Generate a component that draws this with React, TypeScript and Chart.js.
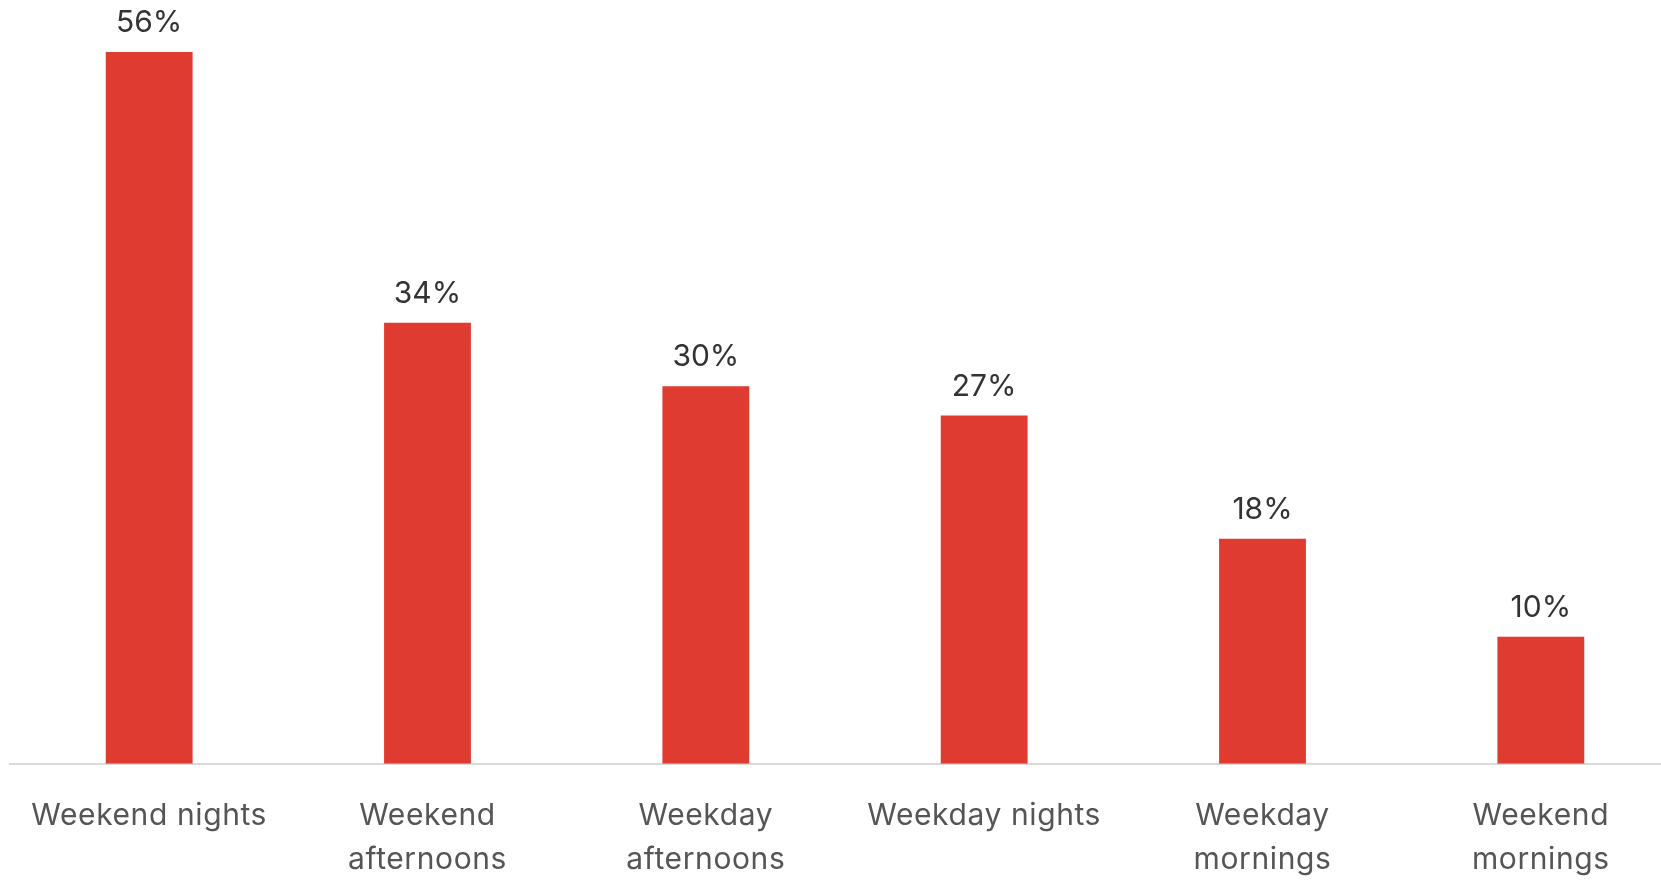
import React, { useEffect, useRef } from "react";
import { Chart, registerables } from "chart.js";

Chart.register(...registerables);

const categories: (string | string[])[] = [
  "Weekend nights",
  ["Weekend", "afternoons"],
  ["Weekday", "afternoons"],
  "Weekday nights",
  ["Weekday", "mornings"],
  ["Weekend", "mornings"],
];
// bar heights
const values: number[] = [56, 34.7, 29.7, 27.4, 17.7, 10.0];
// value labels as printed above the bars
const valueTexts: string[] = ["56%", "34%", "30%", "27%", "18%", "10%"];

const BAR_COLOR = "#e03b31";
const FONT = "Inter, 'Open Sans', sans-serif";

const spacing = {
  id: "spacing",
  beforeDraw(chart: any) {
    chart.ctx.letterSpacing = "0.6px";
  },
};

const valueLabels = {
  id: "valueLabels",
  afterDatasetsDraw(chart: any) {
    const ctx = chart.ctx;
    const meta = chart.getDatasetMeta(0);
    ctx.save();
    ctx.letterSpacing = "0px";
    ctx.font = `400 30px ${FONT}`;
    ctx.fillStyle = "#333333";
    ctx.textAlign = "center";
    ctx.textBaseline = "middle";
    meta.data.forEach((bar: any, i: number) => {
      ctx.fillText(valueTexts[i], bar.x, bar.y - 29);
    });
    ctx.restore();
  },
};

export default function App() {
  const ref = useRef<HTMLCanvasElement>(null);
  useEffect(() => {
    document.body.style.margin = "0";
    const canvas = ref.current!;
    const chart = new Chart(canvas, {
      type: "bar",
      data: {
        labels: categories,
        datasets: [
          {
            data: values,
            backgroundColor: BAR_COLOR,
            barPercentage: 0.312,
            categoryPercentage: 1,
          },
        ],
      },
      options: {
        responsive: false,
        animation: false,
        devicePixelRatio: 1,
        layout: { padding: { top: 52, left: 10, right: 0, bottom: 0 } },
        plugins: { legend: { display: false }, tooltip: { enabled: false } },
        scales: {
          x: {
            offset: true,
            grid: { display: false, drawTicks: false },
            border: { display: true, color: "#d9d9d9", width: 2 },
            ticks: {
              color: "#555555",
              padding: 30,
              maxRotation: 0,
              autoSkip: false,
              font: { family: FONT, size: 30, lineHeight: 1.47 },
            },
          },
          y: { display: false, min: 0, max: 56 },
        },
      },
      plugins: [spacing, valueLabels],
    });
    return () => chart.destroy();
  }, []);
  return (
    <div
      style={{
        position: "fixed",
        left: 0,
        top: 0,
        width: 1661,
        height: 880,
        overflow: "hidden",
        background: "#ffffff",
      }}
    >
      <canvas ref={ref} width={1680} height={912} style={{ display: "block" }} />
    </div>
  );
}
